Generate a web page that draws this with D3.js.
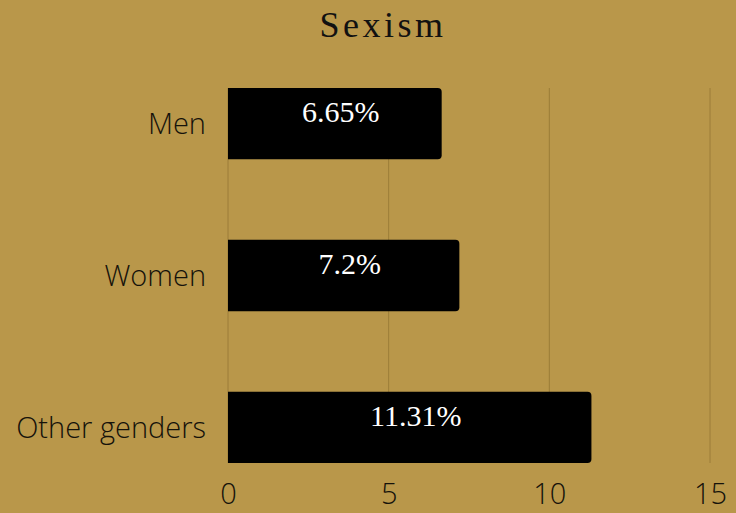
<!DOCTYPE html>
<html>
<head>
<meta charset="utf-8">
<script src="https://cdn.jsdelivr.net/npm/d3@7"></script>
<style>
  body { margin: 0; background: #b9974a; }
  svg { display: block; }
</style>
</head>
<body>
<div id="chart"></div>
<script>
// Chart data
const categories = ["Men", "Women", "Other genders"];
const values = [6.65, 7.2, 11.31];
const valueLabels = ["6.65%", "7.2%", "11.31%"];
const xTicks = [0, 5, 10, 15];
const title = "Sexism";

const width = 736, height = 513;
const margin = {top: 88, left: 228, right: 26, bottom: 50};

const svg = d3.select("#chart").append("svg")
    .attr("width", width)
    .attr("height", height);

svg.append("rect")
    .attr("width", width)
    .attr("height", height)
    .attr("fill", "#b9974a");

const xScale = d3.scaleLinear()
    .domain([0, 15])
    .range([margin.left, width - margin.right]);

const yScale = d3.scaleBand()
    .domain(categories)
    .range([margin.top, height - margin.bottom])
    .paddingInner(0.53)
    .paddingOuter(0);

// gridlines
svg.append("g")
    .selectAll("line")
    .data(xTicks)
    .enter().append("line")
    .attr("x1", d => xScale(d))
    .attr("x2", d => xScale(d))
    .attr("y1", margin.top)
    .attr("y2", height - margin.bottom)
    .attr("stroke", "#9c7d38")
    .attr("stroke-width", 1);

// bars with rounded right end
const r = 4;
svg.append("g")
    .selectAll("path")
    .data(values)
    .enter().append("path")
    .attr("fill", "#000")
    .attr("d", (d, i) => {
        const x0 = xScale(0), x1 = xScale(d);
        const y0 = yScale(categories[i]), y1 = y0 + yScale.bandwidth();
        return `M${x0},${y0}H${x1 - r}Q${x1},${y0} ${x1},${y0 + r}V${y1 - r}Q${x1},${y1} ${x1 - r},${y1}H${x0}Z`;
    });

// value labels
svg.append("g")
    .selectAll("text")
    .data(values)
    .enter().append("text")
    .attr("x", d => (xScale(0) + xScale(d)) / 2 + 6)
    .attr("y", (d, i) => yScale(categories[i]) + 34)
    .attr("text-anchor", "middle")
    .attr("fill", "#fff")
    .style("font-family", "'Liberation Serif', serif")
    .style("font-size", "30px")
    .text((d, i) => valueLabels[i]);

// y axis labels
const yAxis = d3.axisLeft(yScale).tickSize(0).tickPadding(22);
const yAxisGroup = svg.append("g")
    .attr("transform", `translate(${margin.left}, 0)`)
    .call(yAxis);
yAxisGroup.select(".domain").remove();
yAxisGroup.selectAll(".tick text")
    .attr("dy", "0.37em")
    .style("font-family", "'Open Sans', sans-serif")
    .style("font-weight", "300")
    .style("font-size", "29px")
    .attr("fill", "#15120a");

// x axis labels
const xAxis = d3.axisBottom(xScale).tickValues(xTicks).tickSize(0).tickPadding(20);
const xAxisGroup = svg.append("g")
    .attr("transform", `translate(0, ${height - margin.bottom})`)
    .call(xAxis);
xAxisGroup.select(".domain").remove();
xAxisGroup.selectAll(".tick text")
    .style("font-family", "'Open Sans', sans-serif")
    .style("font-weight", "300")
    .style("font-size", "29px")
    .attr("fill", "#15120a");

// title
svg.append("text")
    .attr("x", 383)
    .attr("y", 37)
    .attr("text-anchor", "middle")
    .style("font-family", "'Liberation Serif', serif")
    .style("font-size", "36px")
    .style("letter-spacing", "3.5px")
    .attr("fill", "#111")
    .text(title);
</script>
</body>
</html>
